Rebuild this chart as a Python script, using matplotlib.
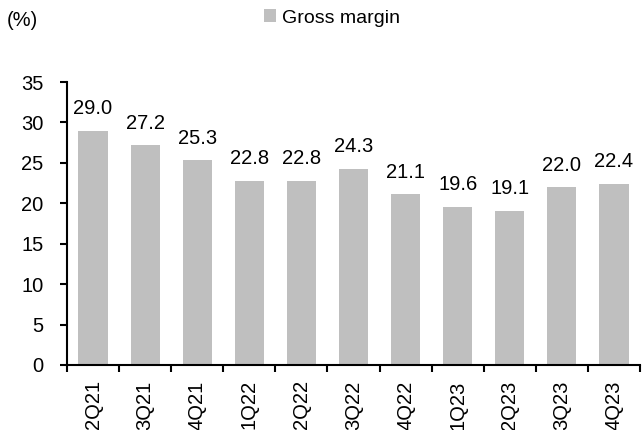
import matplotlib
matplotlib.use("Agg")
import matplotlib.pyplot as plt
import numpy as np

quarters = ["2Q21", "3Q21", "4Q21", "1Q22", "2Q22", "3Q22",
            "4Q22", "1Q23", "2Q23", "3Q23", "4Q23"]
gross_margin = [29.0, 27.2, 25.3, 22.8, 22.8, 24.3, 21.1, 19.6, 19.1, 22.0, 22.4]

plt.rcParams['font.family'] = ['Liberation Sans', 'DejaVu Sans']
plt.rcParams['font.size'] = 14.5

fig = plt.figure(figsize=(6.43, 4.30), dpi=100)
ax = fig.add_axes([67 / 643, 1 - 365 / 430, 573 / 643, 283 / 430])

x = np.arange(len(quarters))
bars = ax.bar(x, gross_margin, width=0.56, color="#BFBFBF", label="Gross margin")

for xi, v in zip(x, gross_margin):
    ax.annotate("%.1f" % v, (xi, v), xytext=(0, 9), textcoords="offset points",
                ha="center", va="bottom", fontsize=14.5)

ax.set_xlim(-0.5, len(quarters) - 0.5)
ax.set_ylim(0, 35)
ax.set_yticks(range(0, 36, 5))
ax.set_xticks(x)
ax.set_xticklabels(quarters, rotation=90)
ax.set_xticks(np.arange(-0.5, len(quarters), 1), minor=True)
ax.tick_params(axis="x", which="major", length=0, pad=11)
ax.tick_params(axis="x", which="minor", length=5, width=1.5, direction="out")
ax.tick_params(axis="y", length=5, width=1.5, direction="out", pad=12)

for s in ["top", "right"]:
    ax.spines[s].set_visible(False)
ax.spines["left"].set_linewidth(1.5)
ax.spines["bottom"].set_linewidth(1.5)

fig.text(7 / 643, 1 - 20 / 430, "(%)", fontsize=14.5, va="center", ha="left")
fig.legend(handles=[bars], labels=["Gross margin"], loc="center",
           bbox_to_anchor=(332 / 643, 1 - 18 / 430), frameon=False,
           handlelength=0.6, handleheight=0.6, handletextpad=0.3, fontsize=14)

fig.savefig("out.png", dpi=100)
